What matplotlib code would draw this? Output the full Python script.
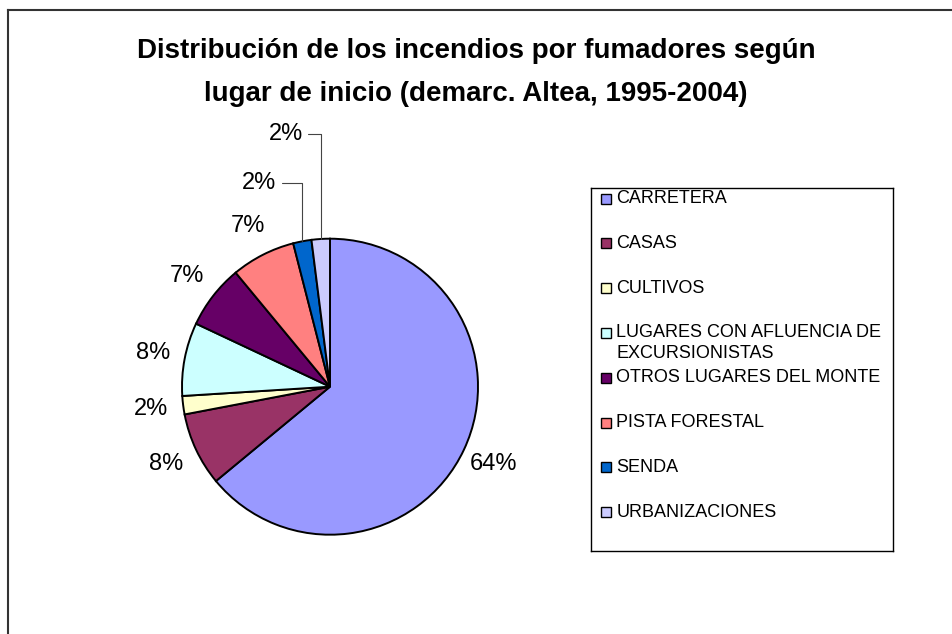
import matplotlib
matplotlib.use('Agg')
import matplotlib.pyplot as plt
from matplotlib.lines import Line2D
from matplotlib.patches import Rectangle
import numpy as np

plt.rcParams['font.family'] = ['Liberation Sans', 'DejaVu Sans']

# Datos del gráfico
categorias = ['CARRETERA', 'CASAS', 'CULTIVOS',
              'LUGARES CON AFLUENCIA DE\nEXCURSIONISTAS',
              'OTROS LUGARES DEL MONTE', 'PISTA FORESTAL', 'SENDA', 'URBANIZACIONES']
porcentajes = [64, 8, 2, 8, 7, 7, 2, 2]
colores = ['#9999FF', '#993366', '#FFFFCC', '#CCFFFF',
           '#660066', '#FF8080', '#0066CC', '#CCCCFF']
titulo = ('Distribución de los incendios por fumadores según\n'
          'lugar de inicio (demarc. Altea, 1995-2004)')

W, H = 952, 634
fig = plt.figure(figsize=(W / 100, H / 100), dpi=100)

# Marco del área del gráfico (cortado a la derecha y abajo)
fig.add_artist(Line2D([8 / W, 8 / W], [0, 1 - 10 / H], color='#333333', lw=1.5))
fig.add_artist(Line2D([8 / W, 1], [1 - 10 / H, 1 - 10 / H], color='#333333', lw=1.5))

# Título en dos líneas
for k, linea in enumerate(titulo.split('\n')):
    fig.text(0.5, 1 - (58 + 43 * k) / H, linea, ha='center', va='baseline',
             fontsize=20, fontweight='bold')

# Tarta
R = 148
cx, cy = 330, 386.7
lim = 1.6
ax = fig.add_axes([(cx - lim * R) / W, (H - cy - lim * R) / H,
                   2 * lim * R / W, 2 * lim * R / H])
wedges, _ = ax.pie(porcentajes, colors=colores, startangle=90, counterclock=False,
                   wedgeprops=dict(edgecolor='black', linewidth=1.4))
ax.set_xlim(-lim, lim)
ax.set_ylim(-lim, lim)
ax.set_aspect('equal')

# Etiquetas de porcentaje; las dos porciones pequeñas de arriba llevan línea guía
desplaz = [(-43, 58), (-35, 105)]  # en píxeles
n_guia = 0
for w, p in zip(wedges, porcentajes):
    ang = (w.theta1 + w.theta2) / 2
    x, y = np.cos(np.deg2rad(ang)), np.sin(np.deg2rad(ang))
    txt = f'{p}%'
    if 75 < ang % 360 < 105:
        dx, dy = desplaz[n_guia]
        n_guia += 1
        ax.annotate(txt, xy=(x, y), xytext=(dx, dy), textcoords='offset pixels',
                    ha='center', va='center', fontsize=17,
                    arrowprops=dict(arrowstyle='-', color='#444444', lw=0.8,
                                    connectionstyle='angle,angleA=0,angleB=90,rad=0',
                                    shrinkA=2, shrinkB=0))
    else:
        ax.text(1.22 * x, 1.22 * y, txt, ha='center', va='center', fontsize=17)

# Leyenda dibujada a mano (huecos fijos como en Excel)
lx0, lx1, ly0, ly1 = 590.5, 892.5, 187.5, 550.5
lax = fig.add_axes([lx0 / W, 1 - ly1 / H, (lx1 - lx0) / W, (ly1 - ly0) / H])
lax.set_xlim(0, lx1 - lx0)
lax.set_ylim(ly1 - ly0, 0)
lax.set_xticks([])
lax.set_yticks([])
for s in lax.spines.values():
    s.set_linewidth(1.0)
    s.set_color('black')

paso = 44.8
for i, (cat, col) in enumerate(zip(categorias, colores)):
    yy = 11 + i * paso
    lax.add_patch(Rectangle((10, yy - 5), 10, 10, facecolor=col, edgecolor='black', lw=1))
    for j, linea in enumerate(cat.split('\n')):
        lax.text(26, yy + j * 21, linea, ha='left', va='center', fontsize=13)

fig.savefig('out.png', dpi=100)
